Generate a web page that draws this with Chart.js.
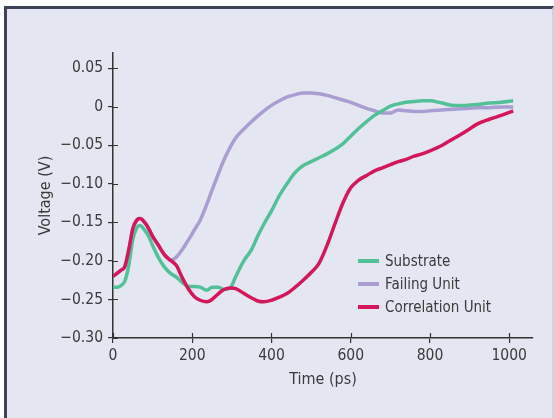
<!DOCTYPE html>
<html>
<head>
<meta charset="utf-8">
<script src="https://cdn.jsdelivr.net/npm/chart.js@4/dist/chart.umd.min.js"></script>
<style>
  html, body { margin: 0; padding: 0; background: #ffffff; }
  #wrap { position: relative; width: 554px; height: 418px; overflow: hidden; }
  #frame { position: absolute; left: 4px; top: 6px; width: 545px; height: 420px;
           background: #e4e7f2; border-top: 3px solid #3d4258; border-left: 3px solid #3d4258;
           border-right: 2px solid #cfd2de; }
  #c { position: absolute; left: 0; top: 0; }
</style>
</head>
<body>
<div id="wrap">
  <div id="frame"></div>
  <canvas id="c" width="554" height="418"></canvas>
</div>
<script>
const times = [0,10,20,30,40,50,60,68,80,90,100,115,130,145,160,175,190,205,220,237,250,265,280,296,310,330,350,365,381,400,420,440,460,480,500,520,540,560,580,600,620,640,660,680,700,720,740,760,780,800,830,860,890,920,950,980,1010];

const substrate = [-0.234,-0.234,-0.232,-0.226,-0.205,-0.172,-0.157,-0.154,-0.160,-0.168,-0.180,-0.196,-0.208,-0.216,-0.221,-0.228,-0.233,-0.233,-0.234,-0.238,-0.234,-0.234,-0.237,-0.235,-0.220,-0.200,-0.185,-0.168,-0.152,-0.135,-0.115,-0.099,-0.085,-0.076,-0.071,-0.066,-0.061,-0.055,-0.048,-0.038,-0.028,-0.019,-0.011,-0.005,0.001,0.004,0.006,0.007,0.008,0.008,0.005,0.002,0.002,0.003,0.005,0.006,0.008];

const failingUnit = [-0.220,-0.216,-0.212,-0.207,-0.185,-0.158,-0.147,-0.145,-0.150,-0.158,-0.168,-0.180,-0.192,-0.199,-0.195,-0.185,-0.173,-0.160,-0.147,-0.126,-0.108,-0.088,-0.069,-0.052,-0.040,-0.029,-0.019,-0.012,-0.005,0.002,0.008,0.013,0.016,0.018,0.018,0.017,0.015,0.012,0.009,0.006,0.002,-0.002,-0.005,-0.008,-0.008,-0.004,-0.005,-0.006,-0.006,-0.005,-0.004,-0.003,-0.002,-0.001,-0.001,0.000,0.000];

const correlationUnit = [-0.220,-0.216,-0.212,-0.207,-0.185,-0.158,-0.147,-0.145,-0.150,-0.158,-0.168,-0.180,-0.192,-0.199,-0.206,-0.222,-0.236,-0.246,-0.251,-0.253,-0.250,-0.243,-0.237,-0.235,-0.236,-0.242,-0.248,-0.252,-0.253,-0.251,-0.247,-0.242,-0.234,-0.225,-0.215,-0.203,-0.180,-0.152,-0.125,-0.105,-0.095,-0.089,-0.083,-0.079,-0.075,-0.071,-0.068,-0.064,-0.061,-0.057,-0.050,-0.041,-0.032,-0.022,-0.016,-0.011,-0.005];

const seriesNames = ['Substrate', 'Failing Unit', 'Correlation Unit'];
const yTickValues = [0.05, 0, -0.05, -0.10, -0.15, -0.20, -0.25, -0.30];
const yTickLabels = ['0.05', '0', '\u22120.05', '\u22120.10', '\u22120.15', '\u22120.20', '\u22120.25', '\u22120.30'];
const xTickValues = [0, 200, 400, 600, 800, 1000];
const xTickLabels = ['0', '200', '400', '600', '800', '1000'];

const FONT = '"Liberation Sans Narrow", "DejaVu Sans Condensed", "Liberation Sans", sans-serif';
const TEXT = '#3a3a3a';
const AXIS = '#333333';

function pts(ys) { return times.map((t, i) => ({ x: t, y: ys[i] })); }

const innerTicks = {
  id: 'innerTicks',
  afterDraw(chart) {
    const ctx = chart.ctx;
    const xs = chart.scales.x, ys = chart.scales.y;
    ctx.save();
    ctx.strokeStyle = AXIS;
    ctx.lineWidth = 1.2;
    ctx.beginPath();
    ys.ticks.forEach(t => {
      const py = Math.round(ys.getPixelForValue(t.value)) + 0.5;
      ctx.moveTo(xs.left, py); ctx.lineTo(xs.left + 5, py);
    });
    xs.ticks.forEach(t => {
      const px = Math.round(xs.getPixelForValue(t.value)) + 0.5;
      ctx.moveTo(px, ys.bottom); ctx.lineTo(px, ys.bottom - 5);
    });
    ctx.stroke();
    ctx.restore();
  }
};

const inLegend = {
  id: 'inLegend',
  afterDatasetsDraw(chart) {
    const ctx = chart.ctx;
    const x0 = 358, x1 = 379, tx = 385;
    const rows = [261, 284, 307];
    ctx.save();
    ctx.font = '15px ' + FONT;
    ctx.textBaseline = 'middle';
    ctx.textAlign = 'left';
    chart.data.datasets.forEach((ds, i) => {
      ctx.strokeStyle = ds.borderColor;
      ctx.lineWidth = 4;
      ctx.lineCap = 'butt';
      ctx.beginPath();
      ctx.moveTo(x0, rows[i]); ctx.lineTo(x1, rows[i]);
      ctx.stroke();
      ctx.fillStyle = TEXT;
      ctx.fillText(ds.label, tx, rows[i] + 1);
    });
    ctx.restore();
  }
};

new Chart(document.getElementById('c'), {
  type: 'line',
  data: {
    datasets: [
      { label: seriesNames[0], data: pts(substrate), borderColor: '#52c197', order: 2 },
      { label: seriesNames[1], data: pts(failingUnit), borderColor: '#a99dd1', order: 3 },
      { label: seriesNames[2], data: pts(correlationUnit), borderColor: '#d4175b', order: 1 }
    ]
  },
  options: {
    responsive: false,
    animation: false,
    events: [],
    layout: { padding: { left: 0, right: 21, top: 53, bottom: 25 } },
    elements: {
      point: { radius: 0 },
      line: { borderWidth: 3.5, tension: 0.4, cubicInterpolationMode: 'monotone', fill: false }
    },
    plugins: { legend: { display: false }, tooltip: { enabled: false } },
    scales: {
      x: {
        type: 'linear', min: 0, max: 1060,
        afterBuildTicks: s => { s.ticks = xTickValues.map(v => ({ value: v })); },
        afterFit: s => { s.height = 55; },
        border: { display: true, color: AXIS, width: 1.5 },
        grid: { display: true, drawOnChartArea: false, drawTicks: true, tickLength: 5, color: AXIS, lineWidth: 1.2 },
        ticks: { color: TEXT, font: { family: FONT, size: 15.5 }, padding: 4, maxRotation: 0,
                 callback: v => { const i = xTickValues.indexOf(v); return i >= 0 ? xTickLabels[i] : ''; } },
        title: { display: true, text: 'Time (ps)', color: TEXT, font: { family: FONT, size: 16 }, padding: { top: 2 } }
      },
      y: {
        type: 'linear', min: -0.30, max: 0.07,
        afterBuildTicks: s => { s.ticks = yTickValues.map(v => ({ value: v })); },
        afterFit: s => { s.width = 113; },
        border: { display: true, color: AXIS, width: 1.5 },
        grid: { display: true, drawOnChartArea: false, drawTicks: true, tickLength: 5, color: AXIS, lineWidth: 1.2 },
        ticks: { color: TEXT, font: { family: FONT, size: 15.5 }, padding: 5,
                 callback: v => { const i = yTickValues.findIndex(t => Math.abs(t - v) < 1e-9); return i >= 0 ? yTickLabels[i] : ''; } },
        title: { display: true, text: 'Voltage (V)', color: TEXT, font: { family: FONT, size: 16 }, padding: { top: 36 } }
      }
    }
  },
  plugins: [innerTicks, inLegend]
});
</script>
</body>
</html>
